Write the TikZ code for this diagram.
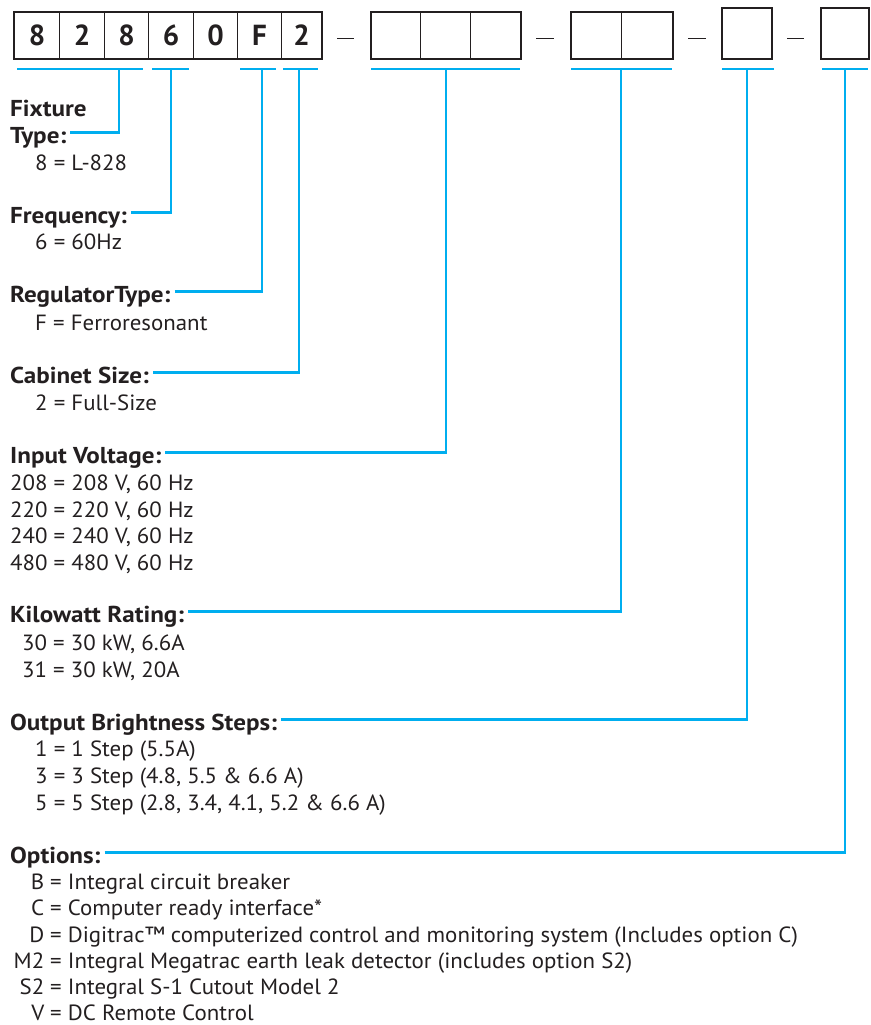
\documentclass[tikz,border=0pt]{standalone}
\usepackage{fontspec}
\setmainfont{PT Sans}
\newfontfamily\headfont{PT Sans}[FakeStretch=1.09]
\newfontfamily\itemfont{PT Sans}[FakeStretch=1.04]
\usetikzlibrary{calc}
\definecolor{lineblue}{HTML}{00AEEF}
\definecolor{ink}{HTML}{231F20}
\tikzset{
  cell/.style={draw=ink, line width=1.1pt, minimum width=#1, minimum height=46pt,
    inner sep=0pt, anchor=north west, text=ink,
    font=\fontsize{29}{30}\selectfont\bfseries},
  tallcell/.style={cell=#1, minimum height=50pt},
  frame/.style={draw=ink, line width=2pt},
  dashmark/.style={draw=ink, line width=1.1pt},
  conn/.style={draw=lineblue, line width=2.8pt},
  head/.style={anchor=base west, inner sep=0pt, text=ink,
    font=\headfont\fontsize{23}{26}\selectfont\bfseries},
  item/.style={anchor=base west, inner sep=0pt, text=ink,
    font=\itemfont\fontsize{22}{25}\selectfont},
  key/.style={anchor=base east, inner sep=0pt, text=ink,
    font=\itemfont\fontsize{22}{25}\selectfont},
}
\begin{document}
\begin{tikzpicture}[x=1pt, y=-1pt]
\useasboundingbox (0,0) rectangle (870,1025);
% ---- code boxes ----
\node[cell=45pt] (c1) at (14,12) {8};
\node[cell=45pt] (c2) at (59,12) {2};
\node[cell=44pt] (c3) at (104,12) {8};
\node[cell=45pt] (c4) at (148,12) {6};
\node[cell=44pt] (c5) at (193,12) {0};
\node[cell=44pt] (c6) at (237,12) {F};
\node[cell=40pt] (c7) at (281,12) {2};
\draw[frame] (c1.north west) rectangle (c7.south east);
\draw[dashmark] (337,38.5) -- (354,38.5);
\node[cell=49pt] (d1) at (371,12) {};
\node[cell=50pt] (d2) at (420,12) {};
\node[cell=50pt] (d3) at (470,12) {};
\draw[frame] (d1.north west) rectangle (d3.south east);
\draw[dashmark] (536,38.5) -- (554,38.5);
\node[cell=50pt] (e1) at (571,12) {};
\node[cell=51pt] (e2) at (621,12) {};
\draw[frame] (e1.north west) rectangle (e2.south east);
\draw[dashmark] (688,38.5) -- (706,38.5);
\node[tallcell=49pt] (f1) at (722,8) {};
\draw[frame] (f1.north west) rectangle (f1.south east);
\draw[dashmark] (787,38.5) -- (804,38.5);
\node[tallcell=47pt] (g1) at (821,8) {};
\draw[frame] (g1.north west) rectangle (g1.south east);
% ---- blue bars ----
\draw[conn] (17,69) -- (143,69);
\draw[conn] (152,69) -- (189,69);
\draw[conn] (240,69) -- (276,69);
\draw[conn] (283,69) -- (318,69);
\draw[conn] (371,69) -- (520,69);
\draw[conn] (571,69) -- (672,69);
\draw[conn] (722,69) -- (774,69);
\draw[conn] (822,69) -- (868,69);
\coordinate (b1) at (119,69);
\coordinate (b2) at (171,69);
\coordinate (b3) at (262,69);
\coordinate (b4) at (299,69);
\coordinate (b5) at (446,69);
\coordinate (b6) at (621,69);
\coordinate (b7) at (747,69);
\coordinate (b8) at (845,69);
% ---- headings ----
\node[head] (h1a) at (10,116) {Fixture};
\node[head] (h1) at (10,143) {Type:};
\node[head] (h2) at (10,223) {Frequency:};
\node[head] (h3) at (10,302) {RegulatorType:};
\node[head] (h4) at (10,383) {Cabinet Size:};
\node[head] (h5) at (10,463) {Input Voltage:};
\node[head] (h6) at (10,622) {Kilowatt Rating:};
\node[head] (h7) at (10,730) {Output Brightness Steps:};
\node[head] (h8) at (10,863) {Options:};
% ---- connectors ----
\draw[conn] ($(h1.base east)+(4,-10.5)$) -| (b1);
\draw[conn] ($(h2.base east)+(4,-10.5)$) -| (b2);
\draw[conn] ($(h3.base east)+(4,-10.5)$) -| (b3);
\draw[conn] ($(h4.base east)+(4,-10.5)$) -| (b4);
\draw[conn] ($(h5.base east)+(4,-10.5)$) -| (b5);
\draw[conn] ($(h6.base east)+(4,-10.5)$) -| (b6);
\draw[conn] ($(h7.base east)+(4,-10.5)$) -| (b7);
\draw[conn] ($(h8.base east)+(4,-10.5)$) -| (b8);
% ---- items ----
\node[item] (i1) at (35,170) {8 = L-828};
\node[item] (i2) at (35,249) {6 = 60Hz};
\node[item] (i3) at (35,330) {F = Ferroresonant};
\node[item] (i4) at (35,410) {2 = Full-Size};
\node[item] (i5a) at (10,490) {208 = 208 V, 60 Hz};
\node[item] (i5b) at (10,517) {220 = 220 V, 60 Hz};
\node[item] (i5c) at (10,543) {240 = 240 V, 60 Hz};
\node[item] (i5d) at (10,570) {480 = 480 V, 60 Hz};
\node[item] (i6a) at (22,650) {30 = 30 kW, 6.6A};
\node[item] (i6b) at (22,677) {31 = 30 kW, 20A};
\node[item] (i7a) at (35,756) {1 = 1 Step (5.5A)};
\node[item] (i7b) at (35,783) {3 = 3 Step (4.8, 5.5 \& 6.6 A)};
\node[item] (i7c) at (35,810) {5 = 5 Step (2.8, 3.4, 4.1, 5.2 \& 6.6 A)};
\node[key] (k8a) at (44.5,889) {B};
\node[item] (i8a) at (50,889) {= Integral circuit breaker};
\node[key] (k8b) at (44.5,915) {C};
\node[item] (i8b) at (50,915) {= Computer ready interface*};
\node[key] (k8c) at (44.5,942) {D};
\node[item] (i8c) at (50,942) {= Digitrac™ computerized control and monitoring system (Includes option C)};
\node[key] (k8d) at (44.5,968) {M2};
\node[item] (i8d) at (50,968) {= Integral Megatrac earth leak detector (includes option S2)};
\node[key] (k8e) at (44.5,994) {S2};
\node[item] (i8e) at (50,994) {= Integral S-1 Cutout Model 2};
\node[key] (k8f) at (44.5,1020) {V};
\node[item] (i8f) at (50,1020) {= DC Remote Control};
\end{tikzpicture}
\end{document}
